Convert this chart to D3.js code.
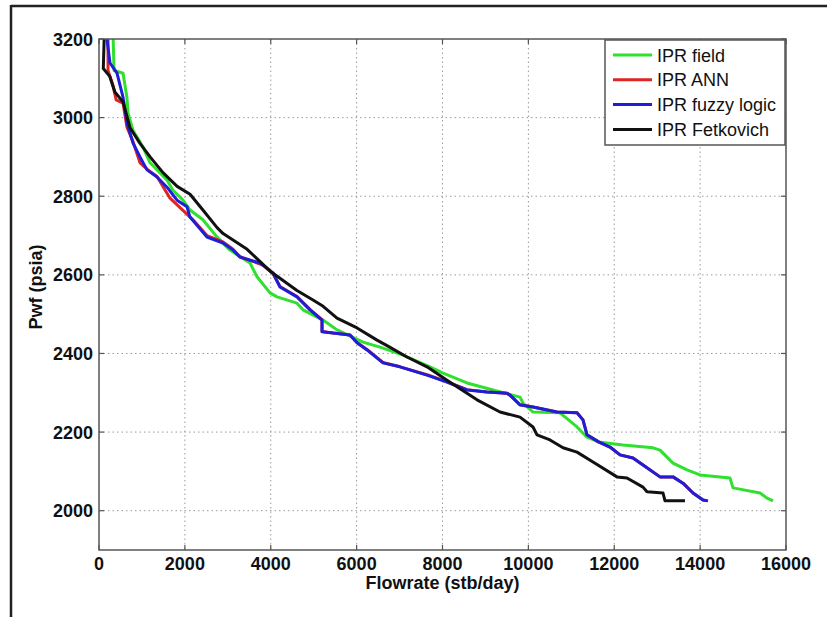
<!DOCTYPE html>
<html>
<head>
<meta charset="utf-8">
<script src="https://cdn.jsdelivr.net/npm/d3@7"></script>
<style>
  body { margin: 0; background: #fff; }
  svg { display: block; }
</style>
</head>
<body>
<svg id="chart"></svg>
<script>
// IPR curves, [flowrate stb/day, Pwf psia]
const iprField = [[330,3200],[350,3120],[560,3113],[650,3052],[675,3012],[790,2968],[1025,2925],[1190,2885],[1585,2841],[1720,2816],[1956,2790],[2120,2765],[2420,2740],[2750,2696],[3050,2663],[3517,2630],[3680,2595],[3983,2554],[4146,2544],[4611,2528],[4751,2511],[5217,2485],[5543,2460],[6149,2429],[6544,2416],[7080,2396],[7709,2366],[8012,2350],[8571,2325],[9176,2307],[9805,2289],[9875,2274],[10108,2251],[10737,2249],[11133,2213],[11366,2187],[11635,2175],[12204,2167],[12903,2160],[13066,2154],[13369,2121],[13694,2104],[13997,2091],[14696,2083],[14766,2058],[15395,2045],[15558,2032],[15697,2025]];

const iprANN = [[210,3200],[210,3120],[330,3080],[400,3045],[560,3037],[650,2976],[790,2940],[955,2885],[1140,2867],[1350,2850],[1654,2795],[2189,2740],[2515,2700],[2888,2684],[3121,2665],[3284,2646],[3820,2625],[4052,2603],[4216,2570],[4611,2545],[4914,2512],[5194,2486],[5194,2456],[5450,2452],[5846,2447],[6009,2428],[6242,2410],[6614,2377],[7010,2366],[7639,2346],[8105,2328],[8571,2308],[9037,2302],[9502,2299],[9572,2294],[9805,2270],[10108,2264],[10667,2251],[11133,2249],[11272,2231],[11366,2193],[11635,2175],[11901,2162],[12134,2142],[12437,2134],[12670,2116],[13066,2086],[13369,2086],[13601,2070],[13834,2045],[14067,2027],[14150,2025]];

const iprFuzzy = [[186,3200],[256,3139],[419,3113],[559,3052],[652,2986],[792,2935],[955,2900],[1118,2867],[1351,2849],[1584,2823],[1817,2790],[2050,2773],[2119,2747],[2515,2696],[2888,2681],[3121,2663],[3284,2645],[3750,2630],[4052,2605],[4216,2569],[4611,2544],[4914,2511],[5194,2485],[5194,2455],[5450,2452],[5846,2447],[6009,2427],[6242,2409],[6614,2376],[7010,2366],[7639,2345],[8105,2327],[8571,2307],[9037,2302],[9502,2299],[9572,2294],[9805,2269],[10108,2264],[10667,2251],[11133,2249],[11272,2231],[11366,2193],[11635,2175],[11901,2162],[12134,2142],[12437,2134],[12670,2116],[13066,2086],[13369,2086],[13601,2070],[13834,2045],[14067,2027],[14184,2025]];

const iprFetkovich = [[120,3200],[100,3125],[250,3105],[370,3065],[560,3040],[720,2975],[950,2935],[1190,2900],[1490,2860],[1820,2825],[2120,2805],[2420,2765],[2750,2720],[2890,2705],[3450,2665],[3980,2610],[4610,2560],[4984,2536],[5220,2520],[5543,2490],[6010,2465],[6475,2434],[6708,2420],[7173,2391],[7639,2366],[8105,2332],[8804,2282],[9339,2251],[9805,2238],[10108,2213],[10201,2193],[10504,2180],[10807,2160],[11133,2149],[11505,2124],[12064,2086],[12297,2083],[12670,2060],[12763,2048],[13136,2045],[13182,2025],[13648,2025]];

const seriesNames = ["IPR field", "IPR ANN", "IPR fuzzy logic", "IPR Fetkovich"];
const seriesColors = ["#2fe02f", "#e02424", "#1e1ed8", "#111111"];
const xTicks = [0, 2000, 4000, 6000, 8000, 10000, 12000, 14000, 16000];
const yTicks = [2000, 2200, 2400, 2600, 2800, 3000, 3200];

const width = 827, height = 617;
const margin = { top: 39, right: 41, bottom: 67, left: 99 };
const innerWidth = width - margin.left - margin.right;
const innerHeight = height - margin.top - margin.bottom;
const fontFamily = "Liberation Sans, Arial, sans-serif";

const svg = d3.select("#chart").attr("width", width).attr("height", height);

// outer frame (top and left edges of the pasted figure)
svg.append("line").attr("x1", 11).attr("x2", width).attr("y1", 6).attr("y2", 6)
    .attr("stroke", "#222").attr("stroke-width", 2.5);
svg.append("line").attr("x1", 11).attr("x2", 11).attr("y1", 5).attr("y2", height)
    .attr("stroke", "#222").attr("stroke-width", 2.5);

const g = svg.append("g").attr("transform", `translate(${margin.left},${margin.top})`);

const x = d3.scaleLinear().domain([0, 16000]).range([0, innerWidth]);
const y = d3.scaleLinear().domain([1900, 3200]).range([innerHeight, 0]);

// dotted grid
g.selectAll(".gx").data(xTicks.slice(1, -1)).join("line")
    .attr("x1", d => x(d)).attr("x2", d => x(d)).attr("y1", 0).attr("y2", innerHeight)
    .attr("stroke", "#9a9a9a").attr("stroke-width", 1).attr("stroke-dasharray", "1.5,3");
g.selectAll(".gy").data(yTicks.filter(d => d < 3200)).join("line")
    .attr("x1", 0).attr("x2", innerWidth).attr("y1", d => y(d)).attr("y2", d => y(d))
    .attr("stroke", "#9a9a9a").attr("stroke-width", 1).attr("stroke-dasharray", "1.5,3");

// inward ticks on all four sides
const tickLen = 5;
g.selectAll(".tb").data(xTicks).join("line")
    .attr("x1", d => x(d)).attr("x2", d => x(d)).attr("y1", innerHeight).attr("y2", innerHeight - tickLen)
    .attr("stroke", "#555").attr("stroke-width", 1.2);
g.selectAll(".tt").data(xTicks).join("line")
    .attr("x1", d => x(d)).attr("x2", d => x(d)).attr("y1", 0).attr("y2", tickLen)
    .attr("stroke", "#555").attr("stroke-width", 1.2);
g.selectAll(".tl").data(yTicks).join("line")
    .attr("x1", 0).attr("x2", tickLen).attr("y1", d => y(d)).attr("y2", d => y(d))
    .attr("stroke", "#555").attr("stroke-width", 1.2);
g.selectAll(".tr").data(yTicks).join("line")
    .attr("x1", innerWidth).attr("x2", innerWidth - tickLen).attr("y1", d => y(d)).attr("y2", d => y(d))
    .attr("stroke", "#555").attr("stroke-width", 1.2);

// tick labels
g.selectAll(".xl").data(xTicks).join("text")
    .attr("font-family", fontFamily).attr("font-weight", "bold").attr("font-size", 18).attr("fill", "#111")
    .attr("x", d => x(d)).attr("y", innerHeight + 20)
    .attr("text-anchor", "middle")
    .text(d => d);
g.selectAll(".yl").data(yTicks).join("text")
    .attr("font-family", fontFamily).attr("font-weight", "bold").attr("font-size", 18).attr("fill", "#111")
    .attr("x", -6).attr("y", d => y(d) + 6.5)
    .attr("text-anchor", "end")
    .text(d => d);

// axis titles
svg.append("text")
    .attr("font-family", fontFamily).attr("font-weight", "bold").attr("font-size", 18).attr("fill", "#111")
    .attr("x", margin.left + innerWidth / 2).attr("y", 589)
    .attr("text-anchor", "middle").text("Flowrate (stb/day)");
svg.append("text")
    .attr("font-family", fontFamily).attr("font-weight", "bold").attr("font-size", 18).attr("fill", "#111")
    .attr("transform", "translate(42,287) rotate(-90)")
    .attr("text-anchor", "middle").text("Pwf (psia)");

// clipped curves
svg.append("clipPath").attr("id", "plot-clip")
    .append("rect").attr("width", innerWidth).attr("height", innerHeight);

const line = d3.line().x(d => x(d[0])).y(d => y(d[1]));
const allSeries = [iprField, iprANN, iprFuzzy, iprFetkovich];

g.append("g").attr("clip-path", "url(#plot-clip)")
    .selectAll("path").data(allSeries).join("path")
    .attr("d", line)
    .attr("fill", "none")
    .attr("stroke", (d, i) => seriesColors[i])
    .attr("stroke-width", 3)
    .attr("stroke-linejoin", "round");

// axes box
g.append("rect").attr("width", innerWidth).attr("height", innerHeight)
    .attr("fill", "none").attr("stroke", "#555").attr("stroke-width", 1.5);

// legend
const legend = svg.append("g").attr("transform", "translate(605,40)");
legend.append("rect").attr("width", 180).attr("height", 105)
    .attr("fill", "#fff").attr("stroke", "#555").attr("stroke-width", 1.5);
const rows = legend.selectAll(".row").data(seriesNames).join("g")
    .attr("transform", (d, i) => `translate(0,${15 + i * 24.8})`);
rows.append("line").attr("x1", 8).attr("x2", 47).attr("y1", 0).attr("y2", 0)
    .attr("stroke", (d, i) => seriesColors[i]).attr("stroke-width", 3);
rows.append("text")
    .attr("font-family", fontFamily).attr("font-size", 18).attr("fill", "#111")
    .attr("x", 52).attr("y", 6.5).text(d => d);
</script>
</body>
</html>
